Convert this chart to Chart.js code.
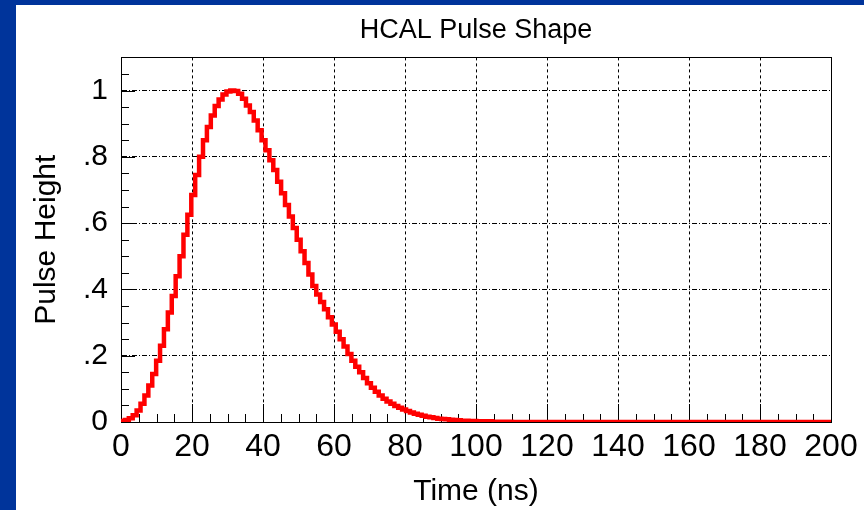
<!DOCTYPE html>
<html>
<head>
<meta charset="utf-8">
<title>HCAL Pulse Shape</title>
<script src="https://cdn.jsdelivr.net/npm/chart.js@4.4.1/dist/chart.umd.min.js"></script>
<style>
  html, body { margin: 0; padding: 0; }
  body { width: 864px; height: 510px; background: #00349b; position: relative; overflow: hidden; }
  #panel { position: absolute; left: 16px; top: 5px; width: 848px; height: 505px; background: #fff; }
  canvas { display: block; }
</style>
</head>
<body>
<div id="panel"><canvas id="pulseChart" width="848" height="505"></canvas></div>
<script>
// histogram bin width (ns) and bin contents
const BIN_NS = 1.1;
const pulseHeight = [
  0.002, 0.003, 0.006, 0.011, 0.020, 0.035, 0.055, 0.080, 0.110, 0.145,
  0.185, 0.230, 0.280, 0.330, 0.380, 0.440, 0.500, 0.565, 0.625, 0.685,
  0.745, 0.800, 0.850, 0.890, 0.925, 0.953, 0.973, 0.988, 0.997, 1.000,
  0.999, 0.990, 0.975, 0.955,
  0.935, 0.910, 0.880, 0.850, 0.820, 0.790, 0.760, 0.725, 0.690, 0.655,
  0.620, 0.585, 0.550, 0.515, 0.480, 0.445, 0.410, 0.385, 0.362, 0.340,
  0.316, 0.294, 0.272, 0.250, 0.228, 0.205, 0.185, 0.167, 0.150, 0.133,
  0.117, 0.103, 0.091, 0.080, 0.070, 0.062, 0.055, 0.048, 0.043, 0.038,
  0.033, 0.029, 0.025, 0.022, 0.019, 0.016, 0.014, 0.012, 0.010, 0.009,
  0.008, 0.007, 0.006, 0.005, 0.004, 0.004, 0.003, 0.003, 0.002, 0.002,
  0.002, 0.002, 0.001, 0.001, 0.001, 0.001, 0.001, 0,
  0, 0, 0, 0, 0, 0, 0, 0, 0, 0,
  0, 0, 0, 0, 0, 0, 0, 0, 0, 0,
  0, 0, 0, 0, 0, 0, 0, 0, 0, 0,
  0, 0, 0, 0, 0, 0, 0, 0, 0, 0,
  0, 0, 0, 0, 0, 0, 0, 0, 0, 0,
  0, 0, 0, 0, 0, 0, 0, 0, 0, 0,
  0, 0, 0, 0, 0, 0, 0, 0, 0, 0,
  0, 0, 0, 0, 0, 0, 0, 0, 0, 0
];

// axis ticks
const xTickValues = [0, 20, 40, 60, 80, 100, 120, 140, 160, 180, 200];
const yTickValues = [0, 0.2, 0.4, 0.6, 0.8, 1];
const yTickLabels = ["0", ".2", ".4", ".6", ".8", "1"];

const FONT = "'Liberation Sans', Arial, Helvetica, sans-serif";

// step points: each bin starts at its low edge, one extra point closes the last bin
const stepPoints = pulseHeight.map((v, i) => ({ x: i * BIN_NS, y: v }));
stepPoints.push({ x: pulseHeight.length * BIN_NS, y: pulseHeight[pulseHeight.length - 1] });

// frame + inward ticks, ROOT style
const rootFrame = {
  id: "rootFrame",
  beforeDatasetsDraw(chart) {
    const { ctx, chartArea: a, scales: { x, y } } = chart;
    const px = v => Math.round(v) + 0.5;
    ctx.save();
    ctx.strokeStyle = "#000";
    ctx.lineWidth = 1;
    ctx.setLineDash([]);
    ctx.strokeRect(px(a.left), px(a.top), Math.round(a.right) - Math.round(a.left), Math.round(a.bottom) - Math.round(a.top));

    ctx.beginPath();
    // x: major every 20, minor every 5
    for (let t = 0; t <= x.max; t += 5) {
      const len = t % 20 === 0 ? 18 : 8;
      const xp = px(x.getPixelForValue(t));
      ctx.moveTo(xp, a.bottom);
      ctx.lineTo(xp, a.bottom - len);
    }
    // y: major every 0.2, minor every 0.05
    for (let k = 0; k * 0.05 <= y.max + 1e-9; k++) {
      const len = k % 4 === 0 ? 14 : 8;
      const yp = px(y.getPixelForValue(k * 0.05));
      ctx.moveTo(a.left, yp);
      ctx.lineTo(a.left + len, yp);
    }
    ctx.stroke();
    ctx.restore();
  }
};

const ctx = document.getElementById("pulseChart").getContext("2d");
new Chart(ctx, {
  type: "line",
  data: {
    datasets: [{
      label: "HCAL pulse",
      data: stepPoints,
      stepped: "after",
      borderColor: "#ff0000",
      borderWidth: 4.5,
      pointRadius: 0,
      fill: false
    }]
  },
  options: {
    responsive: false,
    animation: false,
    devicePixelRatio: 1,
    layout: { padding: { left: 0, right: 33, top: 0, bottom: 0 } },
    plugins: {
      legend: { display: false },
      tooltip: { enabled: false },
      title: {
        display: true,
        text: "HCAL Pulse Shape",
        fullSize: false,
        color: "#000",
        font: { family: FONT, size: 27, weight: "normal" },
        padding: { top: 9, bottom: 11 }
      }
    },
    scales: {
      x: {
        type: "linear",
        min: 0,
        max: 200,
        afterBuildTicks: s => { s.ticks = xTickValues.map(v => ({ value: v })); },
        afterFit: s => { s.height = 88; },
        ticks: {
          color: "#000",
          padding: 6,
          maxRotation: 0,
          autoSkip: false,
          font: { family: FONT, size: 32 },
          callback: v => String(v)
        },
        grid: {
          drawTicks: false,
          lineWidth: 1,
          color: c => (c.tick && (c.tick.value === 0 || c.tick.value === 200)) ? "rgba(0,0,0,0)" : "#000"
        },
        border: { display: true, color: "#000", width: 1, dash: [3, 3] },
        title: {
          display: true,
          text: "Time (ns)",
          color: "#000",
          font: { family: FONT, size: 30 },
          padding: { top: 0, bottom: 0 }
        }
      },
      y: {
        type: "linear",
        min: 0,
        max: 1.1,
        afterBuildTicks: s => { s.ticks = yTickValues.map(v => ({ value: v })); },
        afterFit: s => { s.width = 105; },
        ticks: {
          color: "#000",
          padding: 13,
          autoSkip: false,
          font: { family: FONT, size: 30 },
          callback: (v, i) => yTickLabels[i]
        },
        grid: {
          drawTicks: false,
          lineWidth: 1,
          color: c => (c.tick && c.tick.value === 0) ? "rgba(0,0,0,0)" : "#000"
        },
        border: { display: true, color: "#000", width: 1, dash: [5, 2, 1, 2] },
        title: {
          display: true,
          text: "Pulse Height",
          color: "#000",
          font: { family: FONT, size: 30 },
          padding: { top: 13, bottom: 0 }
        }
      }
    }
  },
  plugins: [rootFrame]
});
</script>
</body>
</html>
